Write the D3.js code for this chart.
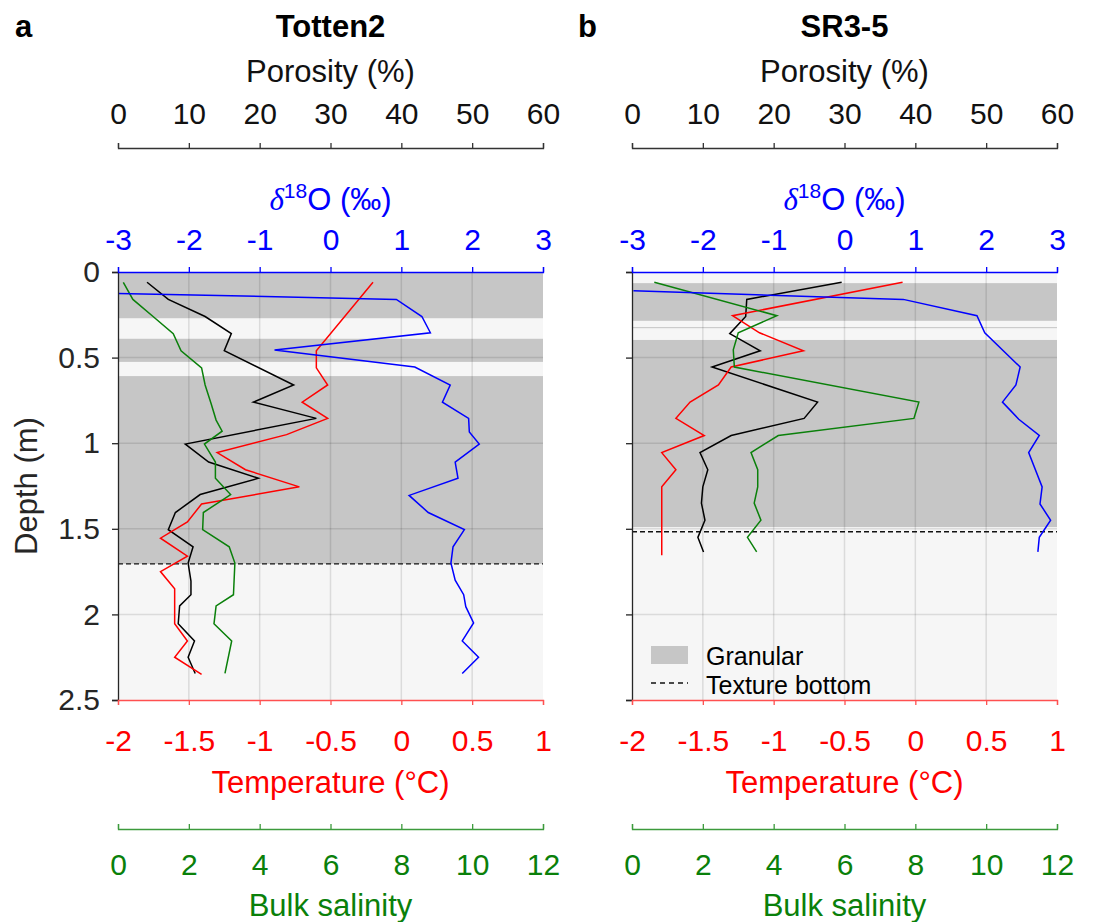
<!DOCTYPE html>
<html lang="en">
<head>
<meta charset="UTF-8">
<title>Sea ice core profiles</title>
<script src="https://d3js.org/d3.v7.min.js"></script>
<style>
  body { margin: 0; background: #fff; font-family: "Liberation Sans", Arial, sans-serif; }
  .tick text { font-family: "Liberation Sans", Arial, sans-serif; }
</style>
</head>
<body>
<div id="chart"></div>
<script>
// ---- Totten2 ----
const t2PorDepth = [0.06, 0.16, 0.26, 0.36, 0.46, 0.66, 0.76, 0.855, 1.005, 1.11, 1.205, 1.30, 1.405, 1.505, 1.605, 1.70, 1.805, 1.885, 1.95, 2.055, 2.155, 2.25, 2.345];
const t2Por = [4.1, 7.1, 12.3, 16.0, 15.0, 24.8, 19.1, 28.0, 9.5, 12.8, 19.8, 11.6, 8.1, 7.1, 10.6, 9.9, 10.3, 10.3, 8.7, 8.5, 10.8, 9.9, 10.9];

const t2SalDepth = [0.06, 0.16, 0.26, 0.36, 0.46, 0.56, 0.66, 0.77, 0.865, 0.93, 1.005, 1.11, 1.205, 1.30, 1.405, 1.505, 1.605, 1.70, 1.885, 1.95, 2.055, 2.155, 2.345];
const t2Sal = [0.15, 0.42, 0.99, 1.56, 1.78, 2.36, 2.46, 2.63, 2.77, 2.94, 2.44, 2.75, 2.75, 3.18, 2.41, 2.39, 3.14, 3.30, 3.26, 2.77, 2.71, 3.21, 3.02];

const t2TempDepth = [0.06, 0.46, 0.56, 0.66, 0.76, 0.855, 0.95, 1.055, 1.155, 1.255, 1.355, 1.46, 1.555, 1.66, 1.75, 1.85, 2.055, 2.155, 2.25, 2.35];
const t2Temp = [-0.2, -0.6, -0.6, -0.52, -0.7, -0.52, -0.81, -1.3, -1.1, -0.72, -1.41, -1.51, -1.7, -1.51, -1.7, -1.6, -1.6, -1.51, -1.6, -1.41];

const t2O18Depth = [0.125, 0.16, 0.26, 0.355, 0.455, 0.555, 0.66, 0.76, 0.855, 0.935, 1.005, 1.11, 1.205, 1.305, 1.405, 1.505, 1.605, 1.70, 1.80, 1.885, 1.955, 2.05, 2.155, 2.25, 2.345];
const t2O18 = [-3.0, 0.93, 1.29, 1.41, -0.79, 1.19, 1.69, 1.58, 1.95, 1.96, 2.1, 1.76, 1.8, 1.11, 1.38, 1.89, 1.73, 1.7, 1.76, 1.88, 1.91, 2.02, 1.86, 2.09, 1.86];

const t2Granular = [[0, 0.27], [0.39, 0.525], [0.608, 1.705]];
const t2TextureBottom = 1.705;

// ---- SR3-5 ----
const srPorDepth = [0.06, 0.16, 0.26, 0.36, 0.46, 0.555, 0.76, 0.855, 0.955, 1.055, 1.155, 1.255, 1.35, 1.45, 1.55, 1.635];
const srPor = [29.6, 16.2, 16.05, 13.8, 18.1, 11.3, 26.2, 24.3, 14.0, 9.6, 10.7, 10.0, 9.8, 10.3, 9.3, 10.1];

const srSalDepth = [0.06, 0.255, 0.355, 0.455, 0.555, 0.76, 0.855, 0.955, 1.055, 1.155, 1.255, 1.35, 1.45, 1.55, 1.635];
const srSal = [0.63, 4.09, 3.0, 2.86, 2.89, 8.1, 7.96, 4.13, 3.36, 3.55, 3.55, 3.45, 3.64, 3.26, 3.52];

const srTempDepth = [0.06, 0.255, 0.355, 0.46, 0.555, 0.66, 0.76, 0.855, 0.955, 1.055, 1.155, 1.255, 1.655];
const srTemp = [-0.09, -1.29, -1.1, -0.79, -1.3, -1.39, -1.59, -1.69, -1.49, -1.79, -1.69, -1.79, -1.79];

const srO18Depth = [0.11, 0.16, 0.255, 0.355, 0.555, 0.66, 0.76, 0.86, 0.955, 1.055, 1.255, 1.355, 1.45, 1.55, 1.635];
const srO18 = [-2.98, 0.83, 1.87, 1.98, 2.48, 2.42, 2.23, 2.46, 2.75, 2.6, 2.79, 2.76, 2.91, 2.75, 2.73];

const srGranular = [[0.065, 0.285], [0.322, 0.328], [0.397, 1.49]];
const srTextureBottom = 1.517;

// ---- axis ticks ----
const porTicks = [0, 10, 20, 30, 40, 50, 60];
const o18Ticks = [-3, -2, -1, 0, 1, 2, 3];
const tempTicks = [-2, -1.5, -1, -0.5, 0, 0.5, 1];
const salTicks = [0, 2, 4, 6, 8, 10, 12];
const depthTicks = [0, 0.5, 1, 1.5, 2, 2.5];

const W = 1094, H = 922;
const yTop = 272, yBottom = 700;
const BLUE = "#0000ff", RED = "#ff0000", GREEN = "#0a800a";
const FONT = "'Liberation Sans', Arial, sans-serif";
const TICK_FS = 30, TITLE_FS = 31;

const svg = d3.select("#chart").append("svg")
  .attr("width", W).attr("height", H)
  .style("font-family", FONT);

const y = d3.scaleLinear().domain([0, 2.5]).range([yTop, yBottom]);
const fmt = d => String(d);

function styleAxis(g, color, lineColor) {
  g.selectAll(".domain").attr("stroke", lineColor).attr("stroke-width", 1.3);
  g.selectAll(".tick line").attr("stroke", lineColor).attr("stroke-width", 1.3);
  g.selectAll(".tick text").attr("fill", color).style("font-size", TICK_FS + "px");
}

function drawPanel(p) {
  const x0 = p.left, x1 = p.left + 425;
  const xPor = d3.scaleLinear().domain([0, 60]).range([x0, x1]);
  const xO = d3.scaleLinear().domain([-3, 3]).range([x0, x1]);
  const xT = d3.scaleLinear().domain([-2, 1]).range([x0, x1]);
  const xS = d3.scaleLinear().domain([0, 12]).range([x0, x1]);
  const g = svg.append("g");

  const clipId = "clip-" + p.id;
  svg.append("clipPath").attr("id", clipId)
    .append("rect").attr("x", x0).attr("y", yTop).attr("width", x1 - x0).attr("height", yBottom - yTop);

  // background and granular layers
  g.append("rect").attr("x", x0).attr("y", yTop).attr("width", x1 - x0).attr("height", yBottom - yTop)
    .attr("fill", "#f6f6f6");
  g.selectAll(".gran").data(p.granular).enter().append("rect")
    .attr("x", x0).attr("width", x1 - x0)
    .attr("y", d => y(d[0])).attr("height", d => y(d[1]) - y(d[0]))
    .attr("fill", "#c6c6c6");

  // grid
  g.selectAll(".vgrid").data(porTicks.slice(1, -1)).enter().append("line")
    .attr("x1", d => xPor(d)).attr("x2", d => xPor(d)).attr("y1", yTop).attr("y2", yBottom)
    .attr("stroke", "#000").attr("stroke-opacity", 0.11).attr("stroke-width", 1.5);
  g.selectAll(".hgrid").data(depthTicks.slice(1, -1)).enter().append("line")
    .attr("x1", x0).attr("x2", x1).attr("y1", d => y(d)).attr("y2", d => y(d))
    .attr("stroke", "#000").attr("stroke-opacity", 0.11).attr("stroke-width", 1.5);

  // texture bottom
  g.append("line").attr("x1", x0).attr("x2", x1)
    .attr("y1", y(p.textureBottom)).attr("y2", y(p.textureBottom))
    .attr("stroke", "#111").attr("stroke-width", 1.4).attr("stroke-dasharray", "5,3");

  // profiles
  const series = [
    { depth: p.porDepth, vals: p.por, sx: xPor, color: "#000" },
    { depth: p.tempDepth, vals: p.temp, sx: xT, color: RED },
    { depth: p.salDepth, vals: p.sal, sx: xS, color: GREEN },
    { depth: p.o18Depth, vals: p.o18, sx: xO, color: BLUE }
  ];
  series.forEach(s => {
    const line = d3.line().x(d => s.sx(d[1])).y(d => y(d[0]));
    g.append("path").datum(s.depth.map((d, i) => [d, s.vals[i]]))
      .attr("clip-path", `url(#${clipId})`)
      .attr("d", line).attr("fill", "none")
      .attr("stroke", s.color).attr("stroke-width", 1.5);
  });

  // depth axis
  const ga = svg.append("g").attr("transform", `translate(${x0},0)`)
    .call(d3.axisLeft(y).tickValues(depthTicks).tickSize(6).tickPadding(12)
      .tickFormat(p.showDepth ? fmt : ""));
  styleAxis(ga, "#262626", "#262626");

  // porosity axis
  const gp = svg.append("g").attr("transform", "translate(0,148)")
    .call(d3.axisTop(xPor).tickValues(porTicks).tickSize(5).tickPadding(19).tickFormat(fmt));
  styleAxis(gp, "#111", "#333");

  // d18O axis
  const go = svg.append("g").attr("transform", `translate(0,${yTop})`)
    .call(d3.axisTop(xO).tickValues(o18Ticks).tickSize(5).tickPadding(17).tickFormat(fmt));
  styleAxis(go, BLUE, BLUE);

  // temperature axis
  const gt = svg.append("g").attr("transform", `translate(0,${yBottom})`)
    .call(d3.axisBottom(xT).tickValues(tempTicks).tickSize(5).tickPadding(25).tickFormat(fmt));
  styleAxis(gt, RED, "#ff5050");

  // salinity axis
  const gs = svg.append("g").attr("transform", "translate(0,829)")
    .call(d3.axisBottom(xS).tickValues(salTicks).tickSizeInner(-5).tickSizeOuter(-5).tickPadding(25).tickFormat(fmt));
  styleAxis(gs, GREEN, "#3c9a3c");

  const cx = (x0 + x1) / 2;
  svg.append("text").attr("x", p.letterX).attr("y", 37).text(p.letter)
    .attr("font-weight", "bold").attr("font-size", TITLE_FS);
  svg.append("text").attr("x", cx).attr("y", 37).attr("text-anchor", "middle")
    .attr("font-weight", "bold").attr("font-size", TITLE_FS).text(p.title);
  svg.append("text").attr("x", cx).attr("y", 82).attr("text-anchor", "middle")
    .attr("font-size", TITLE_FS).attr("fill", "#111").text("Porosity (%)");

  const ot = svg.append("text").attr("x", cx).attr("y", 210).attr("text-anchor", "middle")
    .attr("font-size", TITLE_FS).attr("fill", BLUE);
  ot.append("tspan").attr("font-style", "italic").attr("font-family", "'Liberation Serif', serif").text("δ");
  ot.append("tspan").attr("font-size", 21).attr("dy", -12).text("18");
  ot.append("tspan").attr("dy", 12).text("O (‰)");

  svg.append("text").attr("x", cx).attr("y", 793).attr("text-anchor", "middle")
    .attr("font-size", TITLE_FS).attr("fill", RED).text("Temperature (°C)");
  svg.append("text").attr("x", cx).attr("y", 916).attr("text-anchor", "middle")
    .attr("font-size", TITLE_FS).attr("fill", GREEN).text("Bulk salinity");

  if (p.showDepth) {
    svg.append("text").attr("transform", `translate(37,486) rotate(-90)`)
      .attr("text-anchor", "middle").attr("font-size", TITLE_FS).attr("fill", "#262626").text("Depth (m)");
  }

  if (p.legend) {
    const lg = svg.append("g");
    lg.append("rect").attr("x", x0 + 19).attr("y", 646).attr("width", 37).attr("height", 18).attr("fill", "#c6c6c6");
    lg.append("line").attr("x1", x0 + 19).attr("x2", x0 + 56).attr("y1", 683).attr("y2", 683)
      .attr("stroke", "#111").attr("stroke-width", 1.3).attr("stroke-dasharray", "5,4");
    lg.append("text").attr("x", x0 + 74).attr("y", 665).attr("font-size", 25).text("Granular");
    lg.append("text").attr("x", x0 + 74).attr("y", 694).attr("font-size", 25).text("Texture bottom");
  }
}

drawPanel({
  id: "a", left: 118, letter: "a", letterX: 15, title: "Totten2", showDepth: true, legend: false,
  porDepth: t2PorDepth, por: t2Por, salDepth: t2SalDepth, sal: t2Sal,
  tempDepth: t2TempDepth, temp: t2Temp, o18Depth: t2O18Depth, o18: t2O18,
  granular: t2Granular, textureBottom: t2TextureBottom
});
drawPanel({
  id: "b", left: 632, letter: "b", letterX: 578, title: "SR3-5", showDepth: false, legend: true,
  porDepth: srPorDepth, por: srPor, salDepth: srSalDepth, sal: srSal,
  tempDepth: srTempDepth, temp: srTemp, o18Depth: srO18Depth, o18: srO18,
  granular: srGranular, textureBottom: srTextureBottom
});
</script>
</body>
</html>
